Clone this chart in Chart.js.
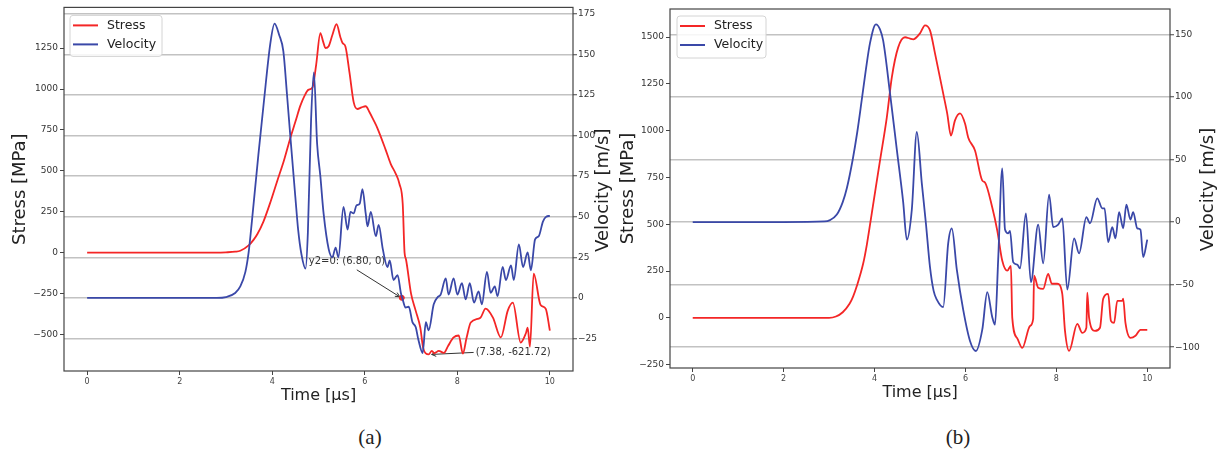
<!DOCTYPE html>
<html>
<head>
<meta charset="utf-8">
<script src="https://cdn.jsdelivr.net/npm/chart.js@4.4.1/dist/chart.umd.min.js"></script>
<style>
  body { margin: 0; background: #fff; width: 1217px; height: 455px; position: relative; overflow: hidden; }
  canvas { position: absolute; top: 0; }
  #chartA { left: 0; }
  #chartB { left: 618px; }
  .caption { position: absolute; top: 425px; font-family: 'Liberation Serif', serif; font-size: 21px; color: #222; transform: translateX(-50%); }
</style>
</head>
<body>
<canvas id="chartA" width="618" height="415"></canvas>
<canvas id="chartB" width="599" height="415"></canvas>
<div class="caption" style="left:370px">(a)</div>
<div class="caption" style="left:958px">(b)</div>
<script>
// ---- data (time in µs) ----
// panel (a)
const timeStressA = [0, 1, 2, 2.8, 3.0, 3.2, 3.31, 3.49, 3.6, 3.68, 3.81, 3.95, 4.11, 4.25, 4.39, 4.5, 4.61, 4.7, 4.78, 4.87,
  4.95, 5.04, 5.1, 5.15, 5.22, 5.3, 5.39, 5.47, 5.52, 5.58, 5.67, 5.76, 5.84, 5.93, 6.02, 6.1, 6.19, 6.27, 6.45, 6.56,
  6.67, 6.75, 6.82, 6.86, 6.89, 7.0, 7.1, 7.2, 7.26, 7.32, 7.38, 7.45, 7.5, 7.6, 7.71, 7.8, 7.92, 8.03, 8.12, 8.2,
  8.29, 8.5, 8.61, 8.77, 8.94, 9.09, 9.2, 9.37, 9.48, 9.52, 9.57, 9.65, 9.8, 9.91, 10.0];
const stressA = [0, 0, 0, 0, 2, 6, 12, 45, 80, 114, 190, 300, 440, 560, 700, 800, 900, 960, 995, 1010,
  1150, 1342, 1290, 1251, 1262, 1330, 1397, 1320, 1281, 1262, 1100, 920, 878, 888, 895, 860, 810, 763, 630, 543,
  482, 420, 299, 0, -40, -250, -354, -458, -580, -616, -621.72, -600, -615, -600, -612, -570, -518, -506, -616, -520,
  -427, -397, -342, -397, -518, -354, -305, -549, -494, -458, -575, -128, -320, -342, -476];
const timeVelocityA = [0, 1, 2, 2.8, 3.0, 3.2, 3.31, 3.42, 3.49, 3.56, 3.7, 3.82, 3.96, 4.05, 4.15, 4.24, 4.32, 4.39, 4.5, 4.56,
  4.63, 4.72, 4.77, 4.84, 4.9, 4.97, 5.04, 5.11, 5.22, 5.3, 5.37, 5.43, 5.54, 5.63, 5.69, 5.76, 5.82, 5.89, 5.95, 6.02,
  6.06, 6.13, 6.24, 6.3, 6.39, 6.49, 6.54, 6.62, 6.71, 6.78, 6.82, 6.88, 6.95, 7.03, 7.1, 7.16, 7.25, 7.32, 7.38, 7.49,
  7.58, 7.64, 7.75, 7.81, 7.92, 8.0, 8.1, 8.18, 8.27, 8.36, 8.46, 8.53, 8.64, 8.72, 8.81, 8.87, 8.98, 9.05, 9.16, 9.22,
  9.33, 9.42, 9.52, 9.59, 9.68, 9.76, 9.85, 9.92, 10.0];
const velocityA = [0, 0, 0, 0, 0.5, 3, 7, 16, 28, 47, 88, 121, 157, 169, 162, 152, 125, 100, 62, 42,
  27, 18, 40, 110, 139, 95, 75, 52, 30, 25, 31, 25, 56, 42, 53, 52, 57, 58, 67, 52,
  44, 53, 38, 45, 30, 19, 23, 11, 14, 3, -1, -6, -5.5, -15, -18, -26, -34, -15, -20, -4,
  0.6, 2, 12, 2, 12, 2, 9, -1, 9, -3, 4, -4, 16, 3, 7, 1, 19, 11, 20, 11,
  33, 19, 28, 17, 36, 38, 47, 50, 50.5];

// panel (b)
const timeStressB = [0, 1, 2, 3.0, 3.15, 3.3, 3.45, 3.53, 3.61, 3.75, 3.83, 3.94, 4.12, 4.27, 4.38, 4.52, 4.67, 4.78, 4.85, 5.0,
  5.11, 5.22, 5.33, 5.51, 5.6, 5.68, 5.77, 5.88, 5.99, 6.06, 6.21, 6.37, 6.43, 6.59, 6.7, 6.81, 6.92, 7.0, 7.03, 7.14,
  7.25, 7.42, 7.49, 7.51, 7.6, 7.71, 7.82, 7.9, 8.02, 8.13, 8.19, 8.28, 8.46, 8.57, 8.66, 8.68, 8.72, 8.85, 8.96, 9.03,
  9.14, 9.2, 9.27, 9.34, 9.45, 9.47, 9.52, 9.63, 9.74, 9.85, 10.0];
const stressB = [0, 0, 0, 0, 7, 30, 75, 115, 170, 290, 390, 560, 840, 1071, 1285, 1445, 1499, 1492, 1488, 1520,
  1563, 1536, 1413, 1199, 1090, 974, 1055, 1092, 1038, 964, 894, 733, 723, 589, 466, 305, 252, 278, 0, -110,
  -161, -43, -5, 225, 161, 155, 235, 182, 182, 128, -70, -177, -32, -80, -53, 134, 0, -70, -53, 102,
  128, -16, -27, 91, 91, 102, -27, -107, -96, -64, -64];
const timeVelocityB = [0, 1, 2, 2.9, 3.02, 3.17, 3.3, 3.39, 3.52, 3.62, 3.72, 3.81, 3.9, 4.03, 4.12, 4.19, 4.34, 4.49, 4.63, 4.71,
  4.82, 4.93, 5.04, 5.13, 5.22, 5.3, 5.37, 5.51, 5.62, 5.7, 5.81, 5.95, 6.1, 6.23, 6.37, 6.48, 6.59, 6.65, 6.72, 6.81,
  6.87, 6.94, 6.98, 7.05, 7.14, 7.2, 7.33, 7.44, 7.6, 7.71, 7.84, 7.93, 8.04, 8.13, 8.24, 8.39, 8.5, 8.66, 8.74, 8.9,
  9.01, 9.06, 9.14, 9.23, 9.3, 9.38, 9.47, 9.54, 9.63, 9.69, 9.78, 9.85, 9.91, 10.0];
const velocityB = [0, 0, 0, 0.5, 1.6, 6, 16, 27, 50, 72, 98, 122, 143, 158, 154, 145, 103, 58, 16, -14,
  10, 72, 31, -1, -36, -55, -62, -68, -17, -5, -38, -70, -95, -103, -86, -56, -76, -82, -30, 43,
  -6, -9, -7, -32, -34, -37, 7, -48, -2, -33, 22, -4, -2, 3, -54, -13, -25, 4, -1, 19,
  11, 11, -16, -4, -13, 8, -5, 14, 2, 8, -5, -6, -28, -14];

// tick labels
const timeTicks = [0, 2, 4, 6, 8, 10];
const stressTicksA = [-500, -250, 0, 250, 500, 750, 1000, 1250];
const velocityTicksA = [-25, 0, 25, 50, 75, 100, 125, 150, 175];
const stressTicksB = [-250, 0, 250, 500, 750, 1000, 1250, 1500];
const velocityTicksB = [-100, -50, 0, 50, 100, 150];

// annotated points in panel (a)
const zeroCrossA = [6.80, 0];      // on velocity axis
const minStressA = [7.38, -621.72];

const RED = 'rgb(244, 38, 38)';
const BLUE = 'rgb(58, 72, 168)';

Chart.defaults.font.family = '"DejaVu Sans", sans-serif';

const pairs = (xs, ys) => xs.map((x, i) => ({ x: x, y: ys[i] }));
const fmt = v => (v < 0 ? '\u2212' + Math.abs(v) : String(v));

// box around the plot area (matplotlib spines)
const framePlugin = {
  id: 'frame',
  afterDatasetsDraw(chart) {
    const { ctx, chartArea: a } = chart;
    ctx.save();
    ctx.strokeStyle = '#444';
    ctx.lineWidth = 1.2;
    ctx.strokeRect(a.left, a.top, a.right - a.left, a.bottom - a.top);
    ctx.restore();
  }
};

// legend inside the axes, top-left, with a light rounded border
const boxLegend = {
  id: 'boxLegend',
  afterDatasetsDraw(chart, args, opts) {
    const { ctx, chartArea: a } = chart;
    const x = a.left + opts.dx, y = a.top + opts.dy;
    ctx.save();
    ctx.fillStyle = 'rgba(255,255,255,0.85)';
    ctx.strokeStyle = '#d4d4d4';
    ctx.lineWidth = 1;
    ctx.beginPath();
    ctx.roundRect(x, y, opts.w, opts.h, 3);
    ctx.fill();
    ctx.stroke();
    ctx.font = '12.5px "DejaVu Sans"';
    ctx.textBaseline = 'middle';
    opts.labels.forEach((label, row) => {
      const ds = chart.data.datasets.find(d => d.label === label);
      const ly = y + 10 + row * 19;
      ctx.strokeStyle = ds.borderColor;
      ctx.lineWidth = 2;
      ctx.beginPath();
      ctx.moveTo(x + 3, ly);
      ctx.lineTo(x + 28, ly);
      ctx.stroke();
      ctx.fillStyle = '#222';
      ctx.fillText(label, x + 37, ly);
    });
    ctx.restore();
  }
};

// right axis title, reading bottom-to-top like matplotlib
const sideTitle = {
  id: 'sideTitle',
  afterDraw(chart, args, opts) {
    const { ctx, chartArea: a } = chart;
    ctx.save();
    ctx.translate(opts.x, (a.top + a.bottom) / 2 + 1);
    ctx.rotate(-Math.PI / 2);
    ctx.font = '18px "DejaVu Sans"';
    ctx.fillStyle = '#222';
    ctx.textAlign = 'center';
    ctx.textBaseline = 'middle';
    ctx.fillText(opts.text, 0, 0);
    ctx.restore();
  }
};

// arrow callouts (panel a)
const callouts = {
  id: 'callouts',
  beforeDatasetsDraw(chart, args, opts) {
    if (!opts.items) return;
    const { ctx, scales } = chart;
    ctx.save();
    ctx.font = '10px "DejaVu Sans"';
    ctx.textBaseline = 'middle';
    opts.items.forEach(it => {
      const px = scales.x.getPixelForValue(it.point[0]);
      const py = scales[it.axis].getPixelForValue(it.point[1]);
      const sx = px + it.from[0], sy = py + it.from[1];
      const ex = px + it.to[0], ey = py + it.to[1];
      ctx.strokeStyle = '#333';
      ctx.lineWidth = 1;
      ctx.beginPath();
      ctx.moveTo(sx, sy);
      ctx.lineTo(ex, ey);
      const ang = Math.atan2(ey - sy, ex - sx);
      ctx.moveTo(ex - 5 * Math.cos(ang - 0.45), ey - 5 * Math.sin(ang - 0.45));
      ctx.lineTo(ex, ey);
      ctx.lineTo(ex - 5 * Math.cos(ang + 0.45), ey - 5 * Math.sin(ang + 0.45));
      ctx.stroke();
      ctx.fillStyle = '#333';
      ctx.fillText(it.text, px + it.textAt[0], py + it.textAt[1]);
    });
    ctx.restore();
  }
};

function makeChart(id, p) {
  const datasets = [
    { label: 'Velocity', data: pairs(p.tv, p.v), yAxisID: 'y1', borderColor: BLUE, backgroundColor: BLUE, order: 0 },
    { label: 'Stress', data: pairs(p.ts, p.s), yAxisID: 'y', borderColor: RED, backgroundColor: RED, order: 1 }
  ].concat(p.extra || []);

  return new Chart(document.getElementById(id), {
    type: 'line',
    data: { datasets: datasets },
    options: {
      responsive: false,
      animation: false,
      devicePixelRatio: 1,
      layout: { padding: { top: p.top, left: 0, right: 0, bottom: 0 } },
      elements: {
        point: { radius: 0 },
        line: { borderWidth: 1.8, cubicInterpolationMode: 'monotone' }
      },
      plugins: {
        legend: { display: false },
        tooltip: { enabled: false },
        boxLegend: p.legend,
        sideTitle: { x: p.sideX, text: 'Velocity [m/s]' },
        callouts: { items: p.callouts }
      },
      scales: {
        x: {
          type: 'linear', min: -0.5, max: 10.5,
          afterBuildTicks: s => { s.ticks = timeTicks.map(v => ({ value: v })); },
          afterFit: s => { s.height = p.xHeight; },
          border: { display: false },
          grid: { drawOnChartArea: false, tickLength: 4, tickColor: '#444' },
          ticks: { autoSkip: false, maxRotation: 0, padding: 2, color: '#444', font: { size: 8 }, callback: fmt },
          title: { display: true, text: 'Time [μs]', color: '#222', font: { size: 16 }, padding: { top: 0, bottom: p.xTitlePad } }
        },
        y: {
          position: 'left', min: p.stressRange[0], max: p.stressRange[1],
          afterBuildTicks: s => { s.ticks = p.stressTicks.map(v => ({ value: v })); },
          afterFit: s => { s.width = p.leftWidth; },
          border: { display: false },
          grid: { drawOnChartArea: false, tickLength: 4, tickColor: '#444' },
          ticks: { autoSkip: false, padding: 2, color: '#333', font: { size: 9 }, callback: fmt },
          title: { display: true, text: 'Stress [MPa]', color: '#222', font: { size: 18 }, padding: { top: p.yTitlePad, bottom: 0 } }
        },
        y1: {
          position: 'right', min: p.velocityRange[0], max: p.velocityRange[1],
          afterBuildTicks: s => { s.ticks = p.velocityTicks.map(v => ({ value: v })); },
          afterFit: s => { s.width = p.rightWidth; },
          border: { display: false },
          grid: { color: '#c2c2c2', lineWidth: 1.5, tickLength: 4, tickColor: '#444', tickWidth: 1 },
          ticks: { autoSkip: false, padding: 1, color: '#333', font: { size: 9 }, callback: fmt }
        }
      }
    },
    plugins: [framePlugin, boxLegend, sideTitle, callouts]
  });
}

makeChart('chartA', {
  ts: timeStressA, s: stressA, tv: timeVelocityA, v: velocityA,
  stressTicks: stressTicksA, velocityTicks: velocityTicksA,
  stressRange: [-723, 1499], velocityRange: [-45.1, 179],
  top: 7, leftWidth: 64, rightWidth: 45, xHeight: 44, xTitlePad: 10, yTitlePad: 10, sideX: 603,
  legend: { dx: 6, dy: 8, w: 92, h: 41, labels: ['Stress', 'Velocity'] },
  extra: [{
    label: 'y2=0', data: [{ x: zeroCrossA[0], y: zeroCrossA[1] }], yAxisID: 'y1', showLine: false,
    pointRadius: 2.5, pointBackgroundColor: RED, borderColor: RED, order: 2
  }],
  callouts: [
    { point: zeroCrossA, axis: 'y1', text: 'y2=0: (6.80, 0)', textAt: [-93, -36], from: [-45, -28], to: [-2, -1] },
    { point: minStressA, axis: 'y', text: '(7.38, -621.72)', textAt: [47, -2], from: [45, -2], to: [3, 0] }
  ]
});

makeChart('chartB', {
  ts: timeStressB, s: stressB, tv: timeVelocityB, v: velocityB,
  stressTicks: stressTicksB, velocityTicks: velocityTicksB,
  stressRange: [-268, 1650], velocityRange: [-116.6, 170.3],
  top: 9, leftWidth: 52, rightWidth: 47, xHeight: 47, xTitlePad: 13, yTitlePad: 0, sideX: 590,
  legend: { dx: 7, dy: 7, w: 89, h: 42, labels: ['Stress', 'Velocity'] }
});
</script>
</body>
</html>
